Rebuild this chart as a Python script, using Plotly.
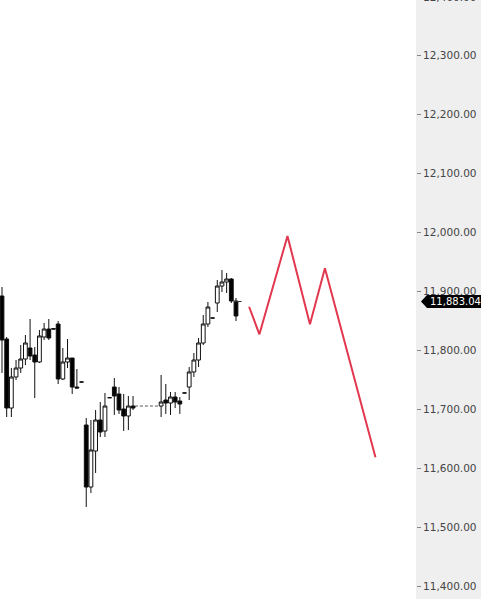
import plotly.graph_objects as go

# ---- data ----
idx = [0, 1, 2, 3, 4, 5, 6, 7, 8, 9, 10, 11, 12, 13, 14, 15, 16, 17, 18, 19, 20,
       21, 22, 23, 24, 25, 26, 27, 28,
       34, 35, 36, 37, 38, 39, 40, 41, 42, 43, 44, 45, 46, 47, 48, 49, 50]
opens = [11892.4, 11819.5, 11702.5, 11755.1, 11770.3, 11785.6, 11804.2, 11792.4, 11780.5, 11822.9,
         11836.4, 11837.0, 11844.9, 11751.7, 11780.5, 11787.3, 11738.1, 11746.6, 11673.7, 11568.6,
         11629.6, 11682.2, 11663.5, 11720.0, 11738.1, 11726.3, 11700.8, 11689.0, 11705.9,
         11705.9, 11716.1, 11711.0, 11721.2, 11714.4, 11728.0, 11738.1, 11763.6, 11783.9, 11812.7,
         11844.9, 11855.1, 11880.5, 11909.3, 11916.1, 11921.2, 11883.9]
highs = [11907.6, 11822.9, 11770.3, 11783.9, 11809.3, 11826.3, 11853.4, 11805.9, 11834.7, 11846.6,
         11853.4, 11838.0, 11850.0, 11804.2, 11819.5, 11787.3, 11768.6, 11747.0, 11685.6, 11682.2,
         11699.1, 11712.7, 11728.0, 11720.5, 11753.4, 11738.1, 11726.3, 11722.9, 11722.9,
         11758.5, 11743.2, 11729.7, 11729.7, 11721.2, 11728.5, 11772.0, 11795.8, 11821.2, 11860.2,
         11882.2, 11855.6, 11919.5, 11936.4, 11931.4, 11922.9, 11889.0]
lows = [11761.9, 11687.3, 11687.3, 11750.0, 11761.9, 11775.4, 11783.9, 11719.5, 11778.8, 11817.8,
        11817.8, 11836.0, 11743.2, 11750.0, 11770.3, 11726.3, 11736.4, 11746.2, 11534.8, 11558.5,
        11592.4, 11653.4, 11653.4, 11719.5, 11690.7, 11692.4, 11663.5, 11665.2, 11699.1,
        11687.3, 11692.4, 11690.7, 11702.5, 11692.4, 11727.5, 11716.1, 11755.1, 11772.0, 11809.3,
        11839.8, 11854.6, 11865.3, 11899.2, 11897.5, 11880.5, 11850.0]
closes = [11817.8, 11702.5, 11755.1, 11770.3, 11785.6, 11812.7, 11790.7, 11780.5, 11824.6, 11836.4,
          11821.2, 11836.4, 11751.7, 11780.5, 11787.3, 11738.1, 11736.4, 11746.6, 11568.6, 11631.3,
          11682.2, 11661.8, 11705.9, 11720.0, 11722.9, 11699.1, 11689.0, 11705.9, 11702.5,
          11712.7, 11711.0, 11721.2, 11712.7, 11709.3, 11728.0, 11763.6, 11783.9, 11812.7, 11844.9,
          11873.7, 11855.1, 11909.3, 11916.1, 11921.2, 11883.9, 11858.5]

gap_x = [28.4, 33.5]
gap_price = [11705.9, 11705.9]

forecast_x = [52.8, 55.0, 61.0, 65.8, 69.0, 79.8]
forecast_y = [11874.2, 11827.5, 11994.1, 11844.4, 11939.3, 11618.9]

last_price = 11883.04
tick_values = [11400, 11500, 11600, 11700, 11800, 11900, 12000, 12100, 12200, 12300, 12400]
tick_labels = [f"{v:,.2f}" for v in tick_values]

# ---- layout constants ----
W, H = 481, 599
PLOT_W = 416
x_dom = PLOT_W / W
x_range = [-0.427, -0.427 + PLOT_W / 4.68]
y_range = [11378.8, 12394.1]
FONT = "DejaVu Sans"

fig = go.Figure()

fig.add_trace(go.Candlestick(
    x=idx, open=opens, high=highs, low=lows, close=closes,
    increasing=dict(line=dict(color="#111111", width=1), fillcolor="#ffffff"),
    decreasing=dict(line=dict(color="#111111", width=1), fillcolor="#000000"),
    whiskerwidth=0, showlegend=False, hoverinfo="skip",
))

fig.add_trace(go.Scatter(
    x=gap_x, y=gap_price, mode="lines",
    line=dict(color="#555555", width=1, dash="3px,2px"),
    showlegend=False, hoverinfo="skip",
))

fig.add_trace(go.Scatter(
    x=[idx[-2] + 0.6, idx[-1] + 1.2], y=[last_price, last_price], mode="lines",
    line=dict(color="#333333", width=1),
    showlegend=False, hoverinfo="skip",
))

fig.add_trace(go.Scatter(
    x=forecast_x, y=forecast_y, mode="lines",
    line=dict(color="#e2384f", width=2),
    showlegend=False, hoverinfo="skip",
))

# right axis panel background
fig.add_shape(type="rect", xref="paper", yref="paper", x0=x_dom, x1=1, y0=0, y1=1,
              fillcolor="#efefef", line=dict(width=0), layer="below")

# price tag (arrow pointing left) around last price
px_per_unit = H / (y_range[1] - y_range[0])
half_h = 6.5 / px_per_unit
tip_x = (PLOT_W + 5) / W
body_x = (PLOT_W + 11) / W
path = (f"M {tip_x} {last_price} L {body_x} {last_price + half_h} L 1 {last_price + half_h} "
        f"L 1 {last_price - half_h} L {body_x} {last_price - half_h} Z")
fig.add_shape(type="path", xref="paper", yref="y", path=path,
              fillcolor="#000000", line=dict(width=0), layer="above")
fig.add_annotation(xref="paper", yref="y", x=body_x + 1 / W, y=last_price,
                   text=f"{last_price:,.2f}", showarrow=False, xanchor="left",
                   font=dict(family=FONT, size=10, color="#ffffff"))

# tick label above top edge (partially visible)
top_val = tick_values[-1]
fig.add_annotation(xref="paper", yref="paper", x=x_dom, xshift=5,
                   y=(top_val - y_range[0]) / (y_range[1] - y_range[0]),
                   text=tick_labels[-1], showarrow=False, xanchor="left", yanchor="middle",
                   font=dict(family=FONT, size=10.5, color="#444444"))

fig.update_layout(
    width=W, height=H,
    margin=dict(l=0, r=0, t=0, b=0),
    paper_bgcolor="#ffffff", plot_bgcolor="#ffffff",
    boxgap=0.19, boxgroupgap=0,
    xaxis=dict(domain=[0, x_dom], range=x_range, visible=False,
               rangeslider=dict(visible=False), fixedrange=True),
    yaxis=dict(range=y_range, side="right", showgrid=False, zeroline=False,
               showline=False, ticks="outside", ticklen=4, tickcolor="#888888",
               tickvals=tick_values[:-1], ticktext=tick_labels[:-1],
               tickfont=dict(family=FONT, size=10.5, color="#444444"),
               fixedrange=True),
)

fig.write_html("out.html", config={"displayModeBar": False},
               post_script="document.body.style.margin='0';document.body.style.overflow='hidden';")
